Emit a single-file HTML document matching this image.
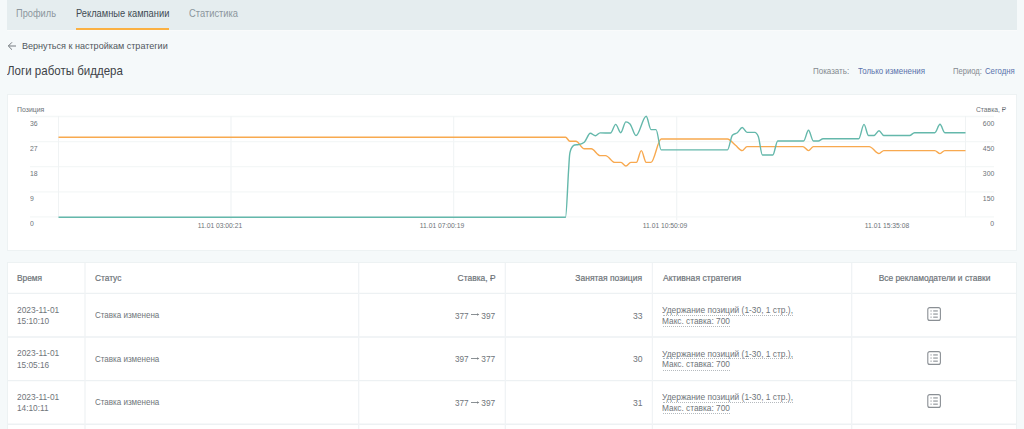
<!DOCTYPE html>
<html><head><meta charset="utf-8"><style>
*{margin:0;padding:0;box-sizing:border-box}
html,body{width:1024px;height:429px;overflow:hidden;background:#f5f9fa;font-family:"Liberation Sans", sans-serif;}
.a{position:absolute;white-space:nowrap;line-height:1}
.rub{position:relative;display:inline-block}
.rub::after{content:"";position:absolute;left:0.0em;width:0.42em;top:0.47em;height:0.08em;background:currentColor}
.card{position:absolute;background:#fff;border:1px solid #edf2f3}
</style></head>
<body>
<div style="position:absolute;left:7px;top:0;width:1010px;height:30px;background:#e5edef"></div>
<div style="position:absolute;left:7px;top:30px;width:1010px;height:1px;background:#f9fbfb"></div>
<div class="a" style="left:16.38px;top:8.78px;font-size:10.13px;color:#8c969d;transform:scaleX(0.914);transform-origin:left top;">Профиль</div>
<div class="a" style="left:76.08px;top:8.78px;font-size:10.13px;color:#414b53;transform:scaleX(0.919);transform-origin:left top;">Рекламные кампании</div>
<div class="a" style="left:189.18px;top:8.78px;font-size:10.13px;color:#8c969d;transform:scaleX(0.922);transform-origin:left top;">Статистика</div>
<div style="position:absolute;left:76px;top:28px;width:93.3px;height:2px;background:#fbb143"></div>
<svg style="position:absolute;left:7px;top:41px" width="10" height="10" viewBox="0 0 10 10"><path d="M9 5H1.5M5 1.3L1.3 5L5 8.7" fill="none" stroke="#757b80" stroke-width="1"/></svg>
<div class="a" style="left:21.69px;top:41.50px;font-size:9.22px;color:#50565c;transform:scaleX(0.982);transform-origin:left top;">Вернуться к настройкам стратегии</div>
<div class="a" style="left:6.68px;top:64.93px;font-size:12.08px;color:#3d4247;transform:scaleX(0.954);transform-origin:left top;">Логи работы биддера</div>
<div class="a" style="left:813.44px;top:66.79px;font-size:8.52px;color:#848a90;transform:scaleX(0.936);transform-origin:left top;">Показать:</div>
<div class="a" style="left:857.64px;top:66.79px;font-size:8.52px;color:#5a72ac;transform:scaleX(0.928);transform-origin:left top;">Только изменения</div>
<div class="a" style="left:953.46px;top:66.79px;font-size:8.52px;color:#848a90;transform:scaleX(0.896);transform-origin:left top;">Период:</div>
<div class="a" style="left:984.55px;top:66.79px;font-size:8.52px;color:#5a72ac;transform:scaleX(0.913);transform-origin:left top;">Сегодня</div>
<div class="card" style="left:7px;top:94px;width:1010px;height:157px"></div>
<svg width="1024" height="429" style="position:absolute;left:0;top:0">
<line x1="30" y1="116.5" x2="994" y2="116.5" stroke="#f4f7f7" stroke-width="1.3"/>
<line x1="30" y1="141.6" x2="994" y2="141.6" stroke="#f4f7f7" stroke-width="1.3"/>
<line x1="30" y1="166.7" x2="994" y2="166.7" stroke="#f4f7f7" stroke-width="1.3"/>
<line x1="30" y1="191.8" x2="994" y2="191.8" stroke="#f4f7f7" stroke-width="1.3"/>
<line x1="30" y1="216.9" x2="994" y2="216.9" stroke="#f4f7f7" stroke-width="1.3"/>
<line x1="58.5" y1="116" x2="58.5" y2="217" stroke="#f0f3f4" stroke-width="1"/>
<line x1="965.5" y1="116" x2="965.5" y2="217" stroke="#f0f3f4" stroke-width="1"/>
<line x1="231" y1="116" x2="231" y2="220" stroke="#f2f5f6" stroke-width="1.3"/>
<line x1="453.6" y1="116" x2="453.6" y2="220" stroke="#f2f5f6" stroke-width="1.3"/>
<line x1="676.7" y1="116" x2="676.7" y2="220" stroke="#f2f5f6" stroke-width="1.3"/>
<path d="M58.50,137.20C227.53,137.20 396.57,137.20 565.60,137.20C567.00,137.20 568.40,141.30 569.80,141.30C571.83,141.30 573.87,141.30 575.90,141.30C578.70,141.30 581.50,148.80 584.30,148.80C586.63,148.80 588.97,148.80 591.30,148.80C594.23,148.80 597.17,155.60 600.10,155.60C601.93,155.60 603.77,155.60 605.60,155.60C608.63,155.60 611.67,162.40 614.70,162.40C616.80,162.40 618.90,162.40 621.00,162.40C622.63,162.40 624.27,166.00 625.90,166.00C627.53,166.00 629.17,162.40 630.80,162.40C632.67,162.40 634.53,162.40 636.40,162.40C638.03,162.40 639.67,150.60 641.30,150.60C642.93,150.60 644.57,162.40 646.20,162.40C647.80,162.40 649.40,162.40 651.00,162.40C654.40,162.40 657.80,139.00 661.20,139.00C683.30,139.00 705.40,139.00 727.50,139.00C730.17,139.00 732.83,143.19 735.50,145.30C737.73,147.06 739.97,150.60 742.20,150.60C743.80,150.60 745.40,146.60 747.00,146.60C765.63,146.60 784.27,146.60 802.90,146.60C804.77,146.60 806.63,150.60 808.50,150.60C810.13,150.60 811.77,146.60 813.40,146.60C832.00,146.60 850.60,146.60 869.20,146.60C872.47,146.60 875.73,153.60 879.00,153.60C880.60,153.60 882.20,150.60 883.80,150.60C900.80,150.60 917.80,150.60 934.80,150.60C936.53,150.60 938.27,153.60 940.00,153.60C941.60,153.60 943.20,150.60 944.80,150.60C951.70,150.60 958.60,150.60 965.50,150.60" fill="none" stroke="#f8a94f" stroke-width="1.4"/>
<path d="M58.50,217.30C227.50,217.30 396.50,217.30 565.50,217.30C566.53,217.30 567.57,185.57 568.60,170.00C568.93,164.98 569.27,158.03 569.60,155.00C569.97,151.67 570.33,151.27 570.70,150.00C571.20,148.27 571.70,147.78 572.20,147.00C573.00,145.76 573.80,145.16 574.60,145.00C575.97,144.73 577.33,144.87 578.70,144.60C580.57,144.24 582.43,143.83 584.30,142.30C586.30,140.66 588.30,133.20 590.30,133.20C592.00,133.20 593.70,135.70 595.40,135.70C596.97,135.70 598.53,132.90 600.10,132.90C603.57,132.90 607.03,133.00 610.50,133.00C612.23,133.00 613.97,124.40 615.70,124.40C617.37,124.40 619.03,132.70 620.70,132.70C622.43,132.70 624.17,121.90 625.90,121.90C627.27,121.90 628.63,122.60 630.00,124.00C632.00,126.05 634.00,135.60 636.00,135.60C639.40,135.60 642.80,116.30 646.20,116.30C647.80,116.30 649.40,129.60 651.00,129.60C652.67,129.60 654.33,129.60 656.00,129.60C657.73,129.60 659.47,149.90 661.20,149.90C683.30,149.90 705.40,149.90 727.50,149.90C729.13,149.90 730.77,136.87 732.40,135.20C734.03,133.53 735.67,133.98 737.30,132.70C738.93,131.42 740.57,127.50 742.20,127.50C743.80,127.50 745.40,132.40 747.00,132.40C749.60,132.40 752.20,132.40 754.80,132.40C755.97,132.40 757.13,133.80 758.30,136.60C759.67,139.88 761.03,155.00 762.40,155.00C765.87,155.00 769.33,155.00 772.80,155.00C774.43,155.00 776.07,141.00 777.70,141.00C786.33,141.00 794.97,141.00 803.60,141.00C805.23,141.00 806.87,130.30 808.50,130.30C810.13,130.30 811.77,141.00 813.40,141.00C815.03,141.00 816.67,141.00 818.30,141.00C819.90,141.00 821.50,138.70 823.10,138.70C834.97,138.70 846.83,138.70 858.70,138.70C860.47,138.70 862.23,124.40 864.00,124.40C865.50,124.40 867.00,135.50 868.50,135.50C870.33,135.50 872.17,135.50 874.00,135.50C875.67,135.50 877.33,130.70 879.00,130.70C880.60,130.70 882.20,135.50 883.80,135.50C892.40,135.50 901.00,135.50 909.60,135.50C911.23,135.50 912.87,132.70 914.50,132.70C921.27,132.70 928.03,132.70 934.80,132.70C936.53,132.70 938.27,124.30 940.00,124.30C941.60,124.30 943.20,132.70 944.80,132.70C951.70,132.70 958.60,132.70 965.50,132.70" fill="none" stroke="#64b8ab" stroke-width="1.4"/>
</svg>
<div class="a" style="left:16.99px;top:105.79px;font-size:6.98px;color:#6c7277;transform:scaleX(0.993);transform-origin:left top;">Позиция</div>
<div class="a" style="left:976.00px;top:105.79px;font-size:6.98px;color:#6c7277;transform:scaleX(0.966);transform-origin:left top;">Ставка, <span class="rub">Р</span></div>
<div class="a" style="left:29.7px;top:120.04px;font-size:7.4px;color:#6c7277;transform:scaleX(0.93);transform-origin:left top">36</div>
<div class="a" style="left:29.7px;top:145.04px;font-size:7.4px;color:#6c7277;transform:scaleX(0.93);transform-origin:left top">27</div>
<div class="a" style="left:29.7px;top:170.04px;font-size:7.4px;color:#6c7277;transform:scaleX(0.93);transform-origin:left top">18</div>
<div class="a" style="left:29.7px;top:195.04px;font-size:7.4px;color:#6c7277;transform:scaleX(0.93);transform-origin:left top">9</div>
<div class="a" style="left:29.7px;top:220.04px;font-size:7.4px;color:#6c7277;transform:scaleX(0.93);transform-origin:left top">0</div>
<div class="a" style="right:29.7px;top:120.04px;font-size:7.4px;color:#6c7277;transform:scaleX(0.93);transform-origin:right top">600</div>
<div class="a" style="right:29.7px;top:145.04px;font-size:7.4px;color:#6c7277;transform:scaleX(0.93);transform-origin:right top">450</div>
<div class="a" style="right:29.7px;top:170.04px;font-size:7.4px;color:#6c7277;transform:scaleX(0.93);transform-origin:right top">300</div>
<div class="a" style="right:29.7px;top:195.04px;font-size:7.4px;color:#6c7277;transform:scaleX(0.93);transform-origin:right top">150</div>
<div class="a" style="right:29.7px;top:220.04px;font-size:7.4px;color:#6c7277;transform:scaleX(0.93);transform-origin:right top">0</div>
<div class="a" style="left:169.6px;width:100px;text-align:center;top:222.88px;font-size:7.1px;color:#6c7277;transform:scaleX(0.95);transform-origin:center top">11.01 03:00:21</div>
<div class="a" style="left:392px;width:100px;text-align:center;top:222.88px;font-size:7.1px;color:#6c7277;transform:scaleX(0.95);transform-origin:center top">11.01 07:00:19</div>
<div class="a" style="left:614.5px;width:100px;text-align:center;top:222.88px;font-size:7.1px;color:#6c7277;transform:scaleX(0.95);transform-origin:center top">11.01 10:50:09</div>
<div class="a" style="left:837px;width:100px;text-align:center;top:222.88px;font-size:7.1px;color:#6c7277;transform:scaleX(0.95);transform-origin:center top">11.01 15:35:08</div>
<div class="card" style="left:7px;top:262px;width:1010px;height:200px"></div>
<svg width="1024" height="429" style="position:absolute;left:0;top:0">
<line x1="8" y1="293.4" x2="1016" y2="293.4" stroke="#edf1f3" stroke-width="1.4"/>
<line x1="8" y1="337.0" x2="1016" y2="337.0" stroke="#edf1f3" stroke-width="1.4"/>
<line x1="8" y1="380.6" x2="1016" y2="380.6" stroke="#edf1f3" stroke-width="1.4"/>
<line x1="8" y1="424.3" x2="1016" y2="424.3" stroke="#edf1f3" stroke-width="1.4"/>
<line x1="85" y1="263" x2="85" y2="429" stroke="#f0f3f5" stroke-width="1.3"/>
<line x1="358.7" y1="263" x2="358.7" y2="429" stroke="#f0f3f5" stroke-width="1.3"/>
<line x1="505.3" y1="263" x2="505.3" y2="429" stroke="#f0f3f5" stroke-width="1.3"/>
<line x1="652.4" y1="263" x2="652.4" y2="429" stroke="#f0f3f5" stroke-width="1.3"/>
<line x1="851.7" y1="263" x2="851.7" y2="429" stroke="#f0f3f5" stroke-width="1.3"/>
</svg>
<div class="a" style="left:17.22px;top:274.16px;font-size:8.80px;color:#6c7277;transform:scaleX(0.950);transform-origin:left top;-webkit-text-stroke:0.2px #70767b">Время</div>
<div class="a" style="left:95.12px;top:274.16px;font-size:8.80px;color:#6c7277;transform:scaleX(0.947);transform-origin:left top;-webkit-text-stroke:0.2px #70767b">Статус</div>
<div class="a" style="right:528.62px;top:274.16px;font-size:8.80px;color:#6c7277;transform:scaleX(0.960);transform-origin:right top;-webkit-text-stroke:0.2px #70767b">Ставка, <span class="rub">Р</span></div>
<div class="a" style="right:381.62px;top:274.16px;font-size:8.80px;color:#6c7277;transform:scaleX(0.966);transform-origin:right top;-webkit-text-stroke:0.2px #70767b">Занятая позиция</div>
<div class="a" style="left:662.61px;top:274.16px;font-size:8.80px;color:#6c7277;transform:scaleX(0.976);transform-origin:left top;-webkit-text-stroke:0.2px #70767b">Активная стратегия</div>
<div class="a" style="left:876.00px;top:274.16px;font-size:8.80px;color:#6c7277;transform:scaleX(0.955);transform-origin:center top;-webkit-text-stroke:0.2px #70767b">Все рекламодатели и ставки</div>
<div class="a" style="left:17.12px;top:306.83px;font-size:8.24px;color:#6f757a;transform:scaleX(1.017);transform-origin:left top;">2023-11-01</div>
<div class="a" style="left:17.13px;top:318.23px;font-size:8.24px;color:#6f757a;transform:scaleX(1.005);transform-origin:left top;">15:10:10</div>
<div class="a" style="left:95.04px;top:311.09px;font-size:8.52px;color:#6f757a;transform:scaleX(0.941);transform-origin:left top;">Ставка изменена</div>
<div class="a" style="left:454.53px;top:311.69px;font-size:8.52px;color:#6f757a;transform:scaleX(0.959);transform-origin:left top;">377</div>
<div class="a" style="right:528.72px;top:311.69px;font-size:8.52px;color:#6f757a;transform:scaleX(0.981);transform-origin:right top;">397</div>
<svg style="position:absolute;left:470px;top:311.2px" width="10" height="7" viewBox="0 0 10 7"><path d="M1 3.5H8.4" stroke="#7d8388" stroke-width="0.9"/><path d="M7 2.3L9.3 3.5L7 4.7Z" fill="#7d8388"/></svg>
<div class="a" style="right:381.71px;top:311.69px;font-size:8.52px;color:#6f757a;transform:scaleX(1.010);transform-origin:right top;">33</div>
<div class="a" style="left:662.42px;top:306.06px;font-size:8.80px;color:#6f757a;transform:scaleX(0.953);transform-origin:left top;">Удержание позиций (1-30, 1 стр.),</div>
<div class="a" style="left:662.43px;top:316.66px;font-size:8.80px;color:#6f757a;transform:scaleX(0.944);transform-origin:left top;">Макс. ставка: 700</div>
<div style="position:absolute;left:663px;top:314.6px;width:130px;height:1px;border-top:1px dotted #b5babe"></div>
<div style="position:absolute;left:663px;top:325.9px;width:67px;height:1px;border-top:1px dotted #b5babe"></div>
<svg style="position:absolute;left:926px;top:305.9px" width="16" height="16" viewBox="0 0 16 16">
<rect x="1.8" y="1.6" width="12.6" height="12.8" rx="2" fill="none" stroke="#8a8f94" stroke-width="1.1"/>
<rect x="4.5" y="4.4" width="1.1" height="1.1" fill="#8a8f94"/><rect x="7.2" y="4.4" width="4.6" height="1.1" fill="#8a8f94"/>
<rect x="4.5" y="7.5" width="1.1" height="1.1" fill="#8a8f94"/><rect x="7.2" y="7.5" width="4.6" height="1.1" fill="#8a8f94"/>
<rect x="4.5" y="10.6" width="1.1" height="1.1" fill="#8a8f94"/><rect x="7.2" y="10.6" width="4.6" height="1.1" fill="#8a8f94"/>
</svg>
<div class="a" style="left:17.12px;top:350.46px;font-size:8.24px;color:#6f757a;transform:scaleX(1.017);transform-origin:left top;">2023-11-01</div>
<div class="a" style="left:17.13px;top:361.86px;font-size:8.24px;color:#6f757a;transform:scaleX(1.005);transform-origin:left top;">15:05:16</div>
<div class="a" style="left:95.04px;top:354.72px;font-size:8.52px;color:#6f757a;transform:scaleX(0.941);transform-origin:left top;">Ставка изменена</div>
<div class="a" style="left:454.53px;top:355.32px;font-size:8.52px;color:#6f757a;transform:scaleX(0.959);transform-origin:left top;">397</div>
<div class="a" style="right:528.72px;top:355.32px;font-size:8.52px;color:#6f757a;transform:scaleX(0.981);transform-origin:right top;">377</div>
<svg style="position:absolute;left:470px;top:354.8px" width="10" height="7" viewBox="0 0 10 7"><path d="M1 3.5H8.4" stroke="#7d8388" stroke-width="0.9"/><path d="M7 2.3L9.3 3.5L7 4.7Z" fill="#7d8388"/></svg>
<div class="a" style="right:381.71px;top:355.32px;font-size:8.52px;color:#6f757a;transform:scaleX(1.010);transform-origin:right top;">30</div>
<div class="a" style="left:662.42px;top:349.69px;font-size:8.80px;color:#6f757a;transform:scaleX(0.953);transform-origin:left top;">Удержание позиций (1-30, 1 стр.),</div>
<div class="a" style="left:662.43px;top:360.29px;font-size:8.80px;color:#6f757a;transform:scaleX(0.944);transform-origin:left top;">Макс. ставка: 700</div>
<div style="position:absolute;left:663px;top:358.2px;width:130px;height:1px;border-top:1px dotted #b5babe"></div>
<div style="position:absolute;left:663px;top:369.5px;width:67px;height:1px;border-top:1px dotted #b5babe"></div>
<svg style="position:absolute;left:926px;top:349.53px" width="16" height="16" viewBox="0 0 16 16">
<rect x="1.8" y="1.6" width="12.6" height="12.8" rx="2" fill="none" stroke="#8a8f94" stroke-width="1.1"/>
<rect x="4.5" y="4.4" width="1.1" height="1.1" fill="#8a8f94"/><rect x="7.2" y="4.4" width="4.6" height="1.1" fill="#8a8f94"/>
<rect x="4.5" y="7.5" width="1.1" height="1.1" fill="#8a8f94"/><rect x="7.2" y="7.5" width="4.6" height="1.1" fill="#8a8f94"/>
<rect x="4.5" y="10.6" width="1.1" height="1.1" fill="#8a8f94"/><rect x="7.2" y="10.6" width="4.6" height="1.1" fill="#8a8f94"/>
</svg>
<div class="a" style="left:17.12px;top:394.09px;font-size:8.24px;color:#6f757a;transform:scaleX(1.017);transform-origin:left top;">2023-11-01</div>
<div class="a" style="left:17.13px;top:405.49px;font-size:8.24px;color:#6f757a;transform:scaleX(1.005);transform-origin:left top;">14:10:11</div>
<div class="a" style="left:95.04px;top:398.35px;font-size:8.52px;color:#6f757a;transform:scaleX(0.941);transform-origin:left top;">Ставка изменена</div>
<div class="a" style="left:454.53px;top:398.95px;font-size:8.52px;color:#6f757a;transform:scaleX(0.959);transform-origin:left top;">377</div>
<div class="a" style="right:528.72px;top:398.95px;font-size:8.52px;color:#6f757a;transform:scaleX(0.981);transform-origin:right top;">397</div>
<svg style="position:absolute;left:470px;top:398.5px" width="10" height="7" viewBox="0 0 10 7"><path d="M1 3.5H8.4" stroke="#7d8388" stroke-width="0.9"/><path d="M7 2.3L9.3 3.5L7 4.7Z" fill="#7d8388"/></svg>
<div class="a" style="right:381.71px;top:398.95px;font-size:8.52px;color:#6f757a;transform:scaleX(1.010);transform-origin:right top;">31</div>
<div class="a" style="left:662.42px;top:393.32px;font-size:8.80px;color:#6f757a;transform:scaleX(0.953);transform-origin:left top;">Удержание позиций (1-30, 1 стр.),</div>
<div class="a" style="left:662.43px;top:403.92px;font-size:8.80px;color:#6f757a;transform:scaleX(0.944);transform-origin:left top;">Макс. ставка: 700</div>
<div style="position:absolute;left:663px;top:401.9px;width:130px;height:1px;border-top:1px dotted #b5babe"></div>
<div style="position:absolute;left:663px;top:413.2px;width:67px;height:1px;border-top:1px dotted #b5babe"></div>
<svg style="position:absolute;left:926px;top:393.15999999999997px" width="16" height="16" viewBox="0 0 16 16">
<rect x="1.8" y="1.6" width="12.6" height="12.8" rx="2" fill="none" stroke="#8a8f94" stroke-width="1.1"/>
<rect x="4.5" y="4.4" width="1.1" height="1.1" fill="#8a8f94"/><rect x="7.2" y="4.4" width="4.6" height="1.1" fill="#8a8f94"/>
<rect x="4.5" y="7.5" width="1.1" height="1.1" fill="#8a8f94"/><rect x="7.2" y="7.5" width="4.6" height="1.1" fill="#8a8f94"/>
<rect x="4.5" y="10.6" width="1.1" height="1.1" fill="#8a8f94"/><rect x="7.2" y="10.6" width="4.6" height="1.1" fill="#8a8f94"/>
</svg>
</body></html>
